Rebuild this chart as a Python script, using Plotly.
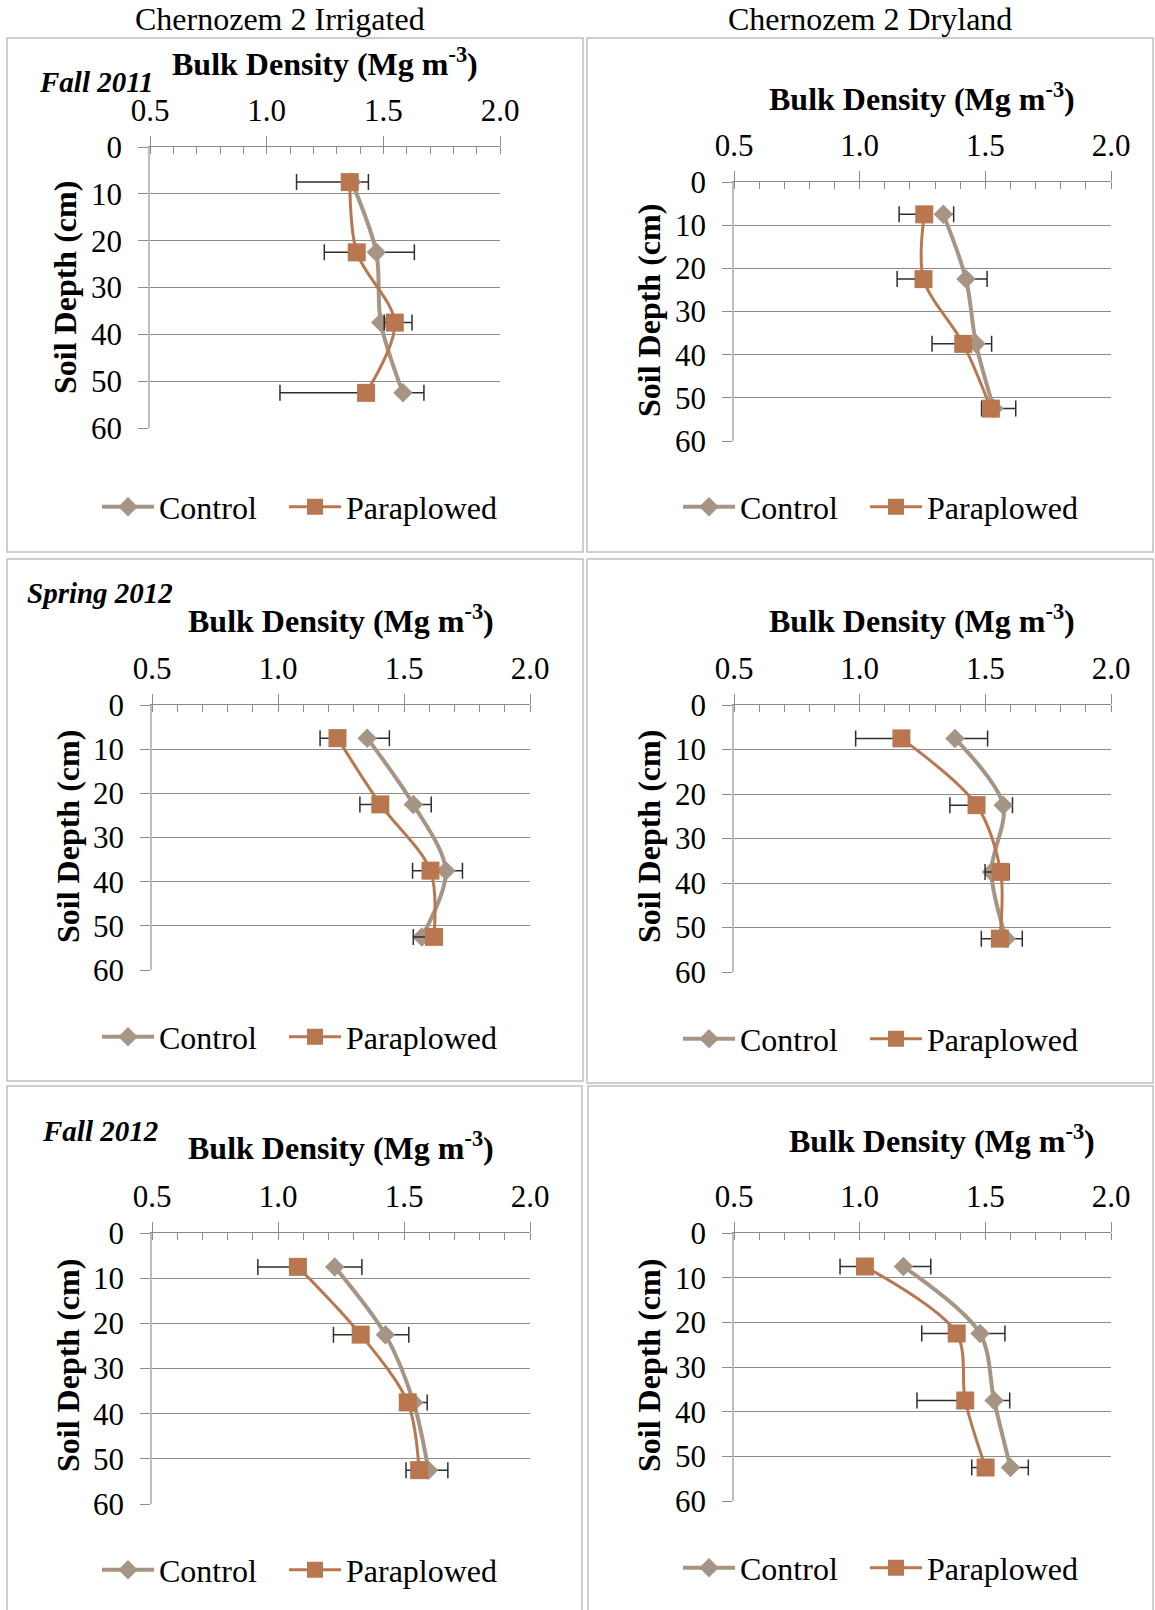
import plotly.graph_objects as go

# ---------------------------------------------------------------------------
# Bulk density (Mg m-3) at four sampling depths, two treatments per panel.
# Control error bars are shown on the + side, Paraplowed on the - side.
# ---------------------------------------------------------------------------
depths = [7.5, 22.5, 37.5, 52.5]
depth_ticks = [0, 10, 20, 30, 40, 50, 60]
density_ticks = [0.5, 1.0, 1.5, 2.0]

column_titles = ["Chernozem 2 Irrigated", "Chernozem 2 Dryland"]
season_labels = ["Fall 2011", "Spring 2012", "Fall 2012"]
series_names = ["Control", "Paraplowed"]

# Irrigated, Fall 2011
irr_f11_control = [1.365, 1.470, 1.489, 1.584]
irr_f11_control_err = [0.071, 0.163, 0.134, 0.090]
irr_f11_para = [1.356, 1.386, 1.549, 1.426]
irr_f11_para_err = [0.228, 0.139, 0.045, 0.369]

# Dryland, Fall 2011
dry_f11_control = [1.333, 1.423, 1.463, 1.534]
dry_f11_control_err = [0.041, 0.084, 0.062, 0.087]
dry_f11_para = [1.257, 1.254, 1.412, 1.522]
dry_f11_para_err = [0.100, 0.105, 0.124, 0.037]

# Irrigated, Spring 2012
irr_s12_control = [1.354, 1.537, 1.666, 1.571]
irr_s12_control_err = [0.088, 0.071, 0.066, 0.060]
irr_s12_para = [1.236, 1.406, 1.605, 1.619]
irr_s12_para_err = [0.069, 0.081, 0.071, 0.082]

# Dryland, Spring 2012
dry_s12_control = [1.379, 1.571, 1.524, 1.583]
dry_s12_control_err = [0.130, 0.037, 0.071, 0.064]
dry_s12_para = [1.166, 1.465, 1.561, 1.558]
dry_s12_para_err = [0.182, 0.106, 0.062, 0.074]

# Irrigated, Fall 2012
irr_f12_control = [1.225, 1.426, 1.538, 1.597]
irr_f12_control_err = [0.108, 0.093, 0.054, 0.077]
irr_f12_para = [1.079, 1.328, 1.515, 1.560]
irr_f12_para_err = [0.159, 0.108, 0.030, 0.052]

# Dryland, Fall 2012
dry_f12_control = [1.174, 1.479, 1.535, 1.600]
dry_f12_control_err = [0.109, 0.099, 0.062, 0.071]
dry_f12_para = [1.021, 1.386, 1.420, 1.501]
dry_f12_para_err = [0.099, 0.139, 0.192, 0.055]

# ---------------------------------------------------------------------------
# Page geometry (pixels) and styling
# ---------------------------------------------------------------------------
W, H = 1155, 1610
FONT = "Liberation Serif, Times New Roman, serif"
CONTROL_COLOR = "#A69585"
PARA_COLOR = "#B8774F"
ERR_COLOR = "#2E2E2E"
GRID_COLOR = "#8C8C8C"
YLINE_COLOR = "#BDBDBD"
BOX_COLOR = "#BFBFBF"

panels = [
    dict(control=irr_f11_control, control_err=irr_f11_control_err,
         para=irr_f11_para, para_err=irr_f11_para_err,
         plot=(150, 500, 147, 428), box=(7, 583, 38, 552),
         title=(325, 62), ylab=(65, 288), legend=(97, 507), season=0),
    dict(control=dry_f11_control, control_err=dry_f11_control_err,
         para=dry_f11_para, para_err=dry_f11_para_err,
         plot=(734, 1111, 182, 441), box=(587, 1153, 38, 552),
         title=(922, 97), ylab=(649, 311), legend=(678, 507), season=None),
    dict(control=irr_s12_control, control_err=irr_s12_control_err,
         para=irr_s12_para, para_err=irr_s12_para_err,
         plot=(152, 530, 705, 970), box=(7, 583, 559, 1081),
         title=(341, 619), ylab=(68, 837), legend=(97, 1037), season=1),
    dict(control=dry_s12_control, control_err=dry_s12_control_err,
         para=dry_s12_para, para_err=dry_s12_para_err,
         plot=(734, 1111, 705, 972), box=(587, 1153, 559, 1083),
         title=(922, 619), ylab=(649, 837), legend=(678, 1039), season=None),
    dict(control=irr_f12_control, control_err=irr_f12_control_err,
         para=irr_f12_para, para_err=irr_f12_para_err,
         plot=(152, 530, 1233, 1504), box=(7, 582, 1086, 1612),
         title=(341, 1146), ylab=(68, 1366), legend=(97, 1570), season=2),
    dict(control=dry_f12_control, control_err=dry_f12_control_err,
         para=dry_f12_para, para_err=dry_f12_para_err,
         plot=(734, 1111, 1233, 1501), box=(588, 1153, 1086, 1612),
         title=(942, 1139), ylab=(649, 1366), legend=(678, 1568), season=None),
]
season_pos = [(96, 82), (100, 593), (100, 1131)]


def px(x):
    return x / W


def py(y):
    return 1 - y / H


fig = go.Figure()
layout = dict(
    width=W, height=H,
    margin=dict(l=0, r=0, t=0, b=0, autoexpand=False),
    paper_bgcolor="white", plot_bgcolor="white",
    font=dict(family=FONT, size=31, color="black"),
    showlegend=True,
    shapes=[], annotations=[],
)

for i, p in enumerate(panels):
    n = i + 1
    sfx = "" if n == 1 else str(n)
    xa, ya, leg = "x" + sfx, "y" + sfx, "legend" + sfx

    fig.add_trace(go.Scatter(
        x=p["control"], y=depths, xaxis=xa, yaxis=ya, legend=leg,
        name=series_names[0], mode="lines+markers", legendwidth=120,
        line=dict(color=CONTROL_COLOR, width=4, shape="spline", smoothing=0.9),
        marker=dict(symbol="diamond", size=15, color=CONTROL_COLOR,
                    line=dict(width=0)),
        error_x=dict(type="data", symmetric=False, array=p["control_err"],
                     arrayminus=[0] * len(depths), color=ERR_COLOR,
                     thickness=1.5, width=8),
        hoverinfo="x+y",
    ))
    fig.add_trace(go.Scatter(
        x=p["para"], y=depths, xaxis=xa, yaxis=ya, legend=leg,
        name=series_names[1], mode="lines+markers", legendwidth=165,
        line=dict(color=PARA_COLOR, width=3, shape="spline", smoothing=0.9),
        marker=dict(symbol="square", size=18, color=PARA_COLOR,
                    line=dict(width=0)),
        error_x=dict(type="data", symmetric=False, array=[0] * len(depths),
                     arrayminus=p["para_err"], color=ERR_COLOR,
                     thickness=1.5, width=8),
        hoverinfo="x+y",
    ))

    x0, x1, y0, y1 = p["plot"]
    layout["xaxis" + sfx] = dict(
        domain=[px(x0), px(x1)], anchor=ya, side="top",
        range=[0.5, 2.0], tick0=0.5, dtick=0.5, tickformat=".1f",
        ticks="outside", ticklen=10, tickwidth=1, tickcolor=GRID_COLOR,
        showline=True, linecolor=GRID_COLOR, linewidth=1,
        showgrid=False, zeroline=False,
        minor=dict(tick0=0.5, dtick=0.1, ticks="inside", ticklen=7,
                   tickwidth=1, tickcolor=GRID_COLOR, showgrid=False),
        tickfont=dict(family=FONT, size=31, color="black"),
        ticklabelstandoff=3,
        fixedrange=True,
    )
    # companion axis carrying the inner half of the crossing major ticks
    layout["xaxis" + str(n + 6)] = dict(
        domain=[px(x0), px(x1)], anchor=ya, overlaying=xa, side="top",
        range=[0.5, 2.0], tick0=0.5, dtick=0.5,
        ticks="inside", ticklen=8, tickwidth=1, tickcolor=GRID_COLOR,
        showticklabels=False, showline=False, showgrid=False,
        zeroline=False, fixedrange=True,
    )
    layout["yaxis" + sfx] = dict(
        domain=[py(y1), py(y0)], anchor=xa,
        range=[60, 0], tickvals=depth_ticks,
        ticks="outside", ticklen=10, tickwidth=1, tickcolor=GRID_COLOR,
        showline=True, linecolor=YLINE_COLOR, linewidth=1.5,
        showgrid=True, gridcolor=GRID_COLOR, gridwidth=1, zeroline=False,
        tickfont=dict(family=FONT, size=31, color="black"),
        ticklabelstandoff=10,
        fixedrange=True,
    )

    lx, ly = p["legend"]
    layout[leg] = dict(
        x=px(lx), y=py(ly), xanchor="left", yanchor="middle",
        orientation="h", bgcolor="rgba(0,0,0,0)", borderwidth=0,
        font=dict(family=FONT, size=32, color="black"),
        itemwidth=52,
    )

    bx0, bx1, by0, by1 = p["box"]
    layout["shapes"].append(dict(
        type="rect", xref="paper", yref="paper",
        x0=px(bx0), x1=px(bx1), y0=py(by1), y1=py(by0),
        line=dict(color=BOX_COLOR, width=1.5), layer="below",
    ))

    tx, ty = p["title"]
    layout["annotations"].append(dict(
        text="<b>Bulk Density (Mg m<sup>-3</sup>)</b>",
        xref="paper", yref="paper", x=px(tx), y=py(ty),
        xanchor="center", yanchor="middle", showarrow=False,
        font=dict(family=FONT, size=32, color="black"),
    ))
    yx, yy = p["ylab"]
    layout["annotations"].append(dict(
        text="<b>Soil Depth (cm)</b>", textangle=-90,
        xref="paper", yref="paper", x=px(yx), y=py(yy),
        xanchor="center", yanchor="middle", showarrow=False,
        font=dict(family=FONT, size=32, color="black"),
    ))
    if p["season"] is not None:
        sx, sy = season_pos[p["season"]]
        layout["annotations"].append(dict(
            text="<b><i>" + season_labels[p["season"]] + "</i></b>",
            xref="paper", yref="paper", x=px(sx), y=py(sy),
            xanchor="center", yanchor="middle", showarrow=False,
            font=dict(family=FONT, size=29, color="black"),
        ))

for title, cx in zip(column_titles, [280, 870]):
    layout["annotations"].append(dict(
        text=title, xref="paper", yref="paper", x=px(cx), y=py(19),
        xanchor="center", yanchor="middle", showarrow=False,
        font=dict(family=FONT, size=32, color="black"),
    ))

fig.update_layout(**layout)
fig.write_html("out.html")
